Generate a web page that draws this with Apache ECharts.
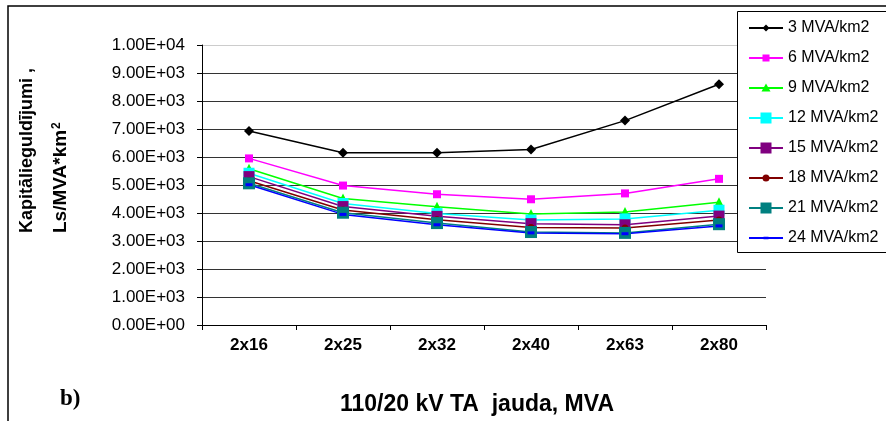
<!DOCTYPE html>
<html>
<head>
<meta charset="utf-8">
<style>
  html, body { margin: 0; padding: 0; background: #ffffff; }
  #chart { width: 886px; height: 421px; }
</style>
<script src="https://cdn.jsdelivr.net/npm/echarts@6/dist/echarts.min.js"></script>
</head>
<body>
<div id="chart"></div>
<script>
// Transformer capacity options (x axis)
const categories = ['2x16', '2x25', '2x32', '2x40', '2x63', '2x80'];

// Load density series names
const seriesNames = ['3 MVA/km2', '6 MVA/km2', '9 MVA/km2', '12 MVA/km2',
                     '15 MVA/km2', '18 MVA/km2', '21 MVA/km2', '24 MVA/km2'];

// Capital investment, Ls/(MVA*km2), per load density
const d3  = [6930, 6150, 6150, 6270, 7300, 8600];
const d6  = [5950, 4980, 4670, 4490, 4700, 5220];
const d9  = [5580, 4520, 4220, 3960, 4040, 4380];
const d12 = [5420, 4340, 3980, 3750, 3790, 4100];
const d15 = [5300, 4230, 3880, 3620, 3580, 3890];
const d18 = [5150, 4110, 3760, 3480, 3460, 3750];
const d21 = [5060, 4010, 3640, 3320, 3290, 3600];
const d24 = [5010, 3950, 3580, 3290, 3260, 3540];

// Y axis ticks and their labels in scientific notation
const yTickValues = [0, 1000, 2000, 3000, 4000, 5000, 6000, 7000, 8000, 9000, 10000];
const yTickLabels = ['0.00E+00', '1.00E+03', '2.00E+03', '3.00E+03', '4.00E+03', '5.00E+03',
                     '6.00E+03', '7.00E+03', '8.00E+03', '9.00E+03', '1.00E+04'];

const seriesData = [d3, d6, d9, d12, d15, d18, d21, d24];

// Marker appearance per series
const styles = [
  { color: '#000000', symbol: 'diamond',  size: 10 },
  { color: '#ff00ff', symbol: 'rect',     size: 8 },
  { color: '#00ff00', symbol: 'triangle', size: 10 },
  { color: '#00ffff', symbol: 'rect',     size: 11 },
  { color: '#800080', symbol: 'rect',     size: 11 },
  { color: '#800000', symbol: 'circle',   size: 7 },
  { color: '#008080', symbol: 'rect',     size: 12 },
  { color: '#0000ff', symbol: 'rect',     size: [7, 3] }
];

// Legend icon: a 34x12 box holding a line with the marker in its middle.
// Two tiny specks at opposite corners pin the bounding box so the icon is not rescaled.
// All sub-paths run clockwise so the nonzero fill covers the overlaps.
const PIN = 'M0,0 L0.01,0 L0.01,0.01 Z M34,12 L33.99,12 L33.99,11.99 Z ';
const LINE = 'M0,5.1 L34,5.1 L34,6.9 L0,6.9 Z ';
const legendMarks = [
  'M17,2.5 L20.5,6 L17,9.5 L13.5,6 Z',               // diamond
  'M13.5,2.5 L20.5,2.5 L20.5,9.5 L13.5,9.5 Z',       // small square
  'M17,1.5 L21.5,9.5 L12.5,9.5 Z',                   // triangle
  'M11.5,0.5 L22.5,0.5 L22.5,11.5 L11.5,11.5 Z',     // large square
  'M11.5,0.5 L22.5,0.5 L22.5,11.5 L11.5,11.5 Z',     // large square
  'M13.5,6 A3.5,3.5 0 1 1 20.5,6 A3.5,3.5 0 1 1 13.5,6 Z', // circle
  'M11.5,0.5 L22.5,0.5 L22.5,11.5 L11.5,11.5 Z',     // large square
  'M14.5,4.8 L19.5,4.8 L19.5,7.2 L14.5,7.2 Z'        // dash
];

const FONT = '"Liberation Sans", Arial, sans-serif';

const chart = echarts.init(document.getElementById('chart'), null, { renderer: 'canvas' });

const option = {
  animation: false,
  backgroundColor: '#ffffff',
  grid: { left: 202, right: 120, top: 45, bottom: 96 },
  legend: {
    orient: 'vertical',
    left: 737,
    top: 11,
    itemWidth: 34,
    itemHeight: 12,
    itemGap: 14,
    padding: [9, 0, 10, 12],
    symbolKeepAspect: true,
    textStyle: { fontFamily: FONT, fontSize: 16, color: '#000000' },
    data: seriesNames.map(function (name, i) {
      return { name: name, icon: 'path://' + PIN + LINE + legendMarks[i] };
    })
  },
  xAxis: {
    type: 'category',
    data: categories,
    boundaryGap: true,
    axisLine: { lineStyle: { color: '#000000', width: 1 } },
    axisTick: { show: true, length: 5, lineStyle: { color: '#000000' } },
    axisLabel: { fontFamily: FONT, fontWeight: 'bold', fontSize: 17, color: '#000000', margin: 12 },
    splitLine: { show: false }
  },
  yAxis: {
    type: 'value',
    min: 0,
    max: 10000,
    interval: 1000,
    axisLine: { show: true, lineStyle: { color: '#000000', width: 1 } },
    axisTick: { show: true, length: 5, lineStyle: { color: '#000000' } },
    axisLabel: {
      fontFamily: FONT, fontSize: 17, color: '#000000', margin: 17,
      formatter: function (v) {
        const i = yTickValues.indexOf(v);
        return i >= 0 ? yTickLabels[i] : '';
      }
    },
    splitLine: {
      show: true,
      lineStyle: {
        color: ['#333333', '#333333', '#333333', '#333333', '#333333', '#333333',
                '#333333', '#333333', '#333333', '#333333', '#cccccc'],
        width: 1
      }
    }
  },
  series: seriesNames.map(function (name, i) {
    const s = styles[i];
    return {
      name: name,
      type: 'line',
      data: seriesData[i],
      symbol: s.symbol,
      symbolSize: s.size,
      showAllSymbol: true,
      lineStyle: { color: s.color, width: 1.5 },
      itemStyle: { color: s.color },
      emphasis: { disabled: true }
    };
  }),
  graphic: [
    // outer frame
    {
      type: 'rect',
      silent: true,
      z: -1,
      shape: { x: 8, y: 6, width: 900, height: 440 },
      style: { fill: null, stroke: '#000000', lineWidth: 1.5 }
    },
    // legend box, running past the right edge
    {
      type: 'rect',
      silent: true,
      z: 3,
      shape: { x: 737.5, y: 11.5, width: 200, height: 241 },
      style: { fill: '#ffffff', stroke: '#000000', lineWidth: 1 }
    },
    // y axis title, first line
    {
      type: 'text',
      x: 27, y: 233,
      rotation: Math.PI / 2,
      style: {
        text: 'Kapitālieguldījumi ,',
        fontFamily: FONT, fontWeight: 'bold', fontSize: 18, fill: '#000000',
        align: 'left', verticalAlign: 'middle'
      }
    },
    // y axis title, second line with superscript
    {
      type: 'text',
      x: 61, y: 233,
      rotation: Math.PI / 2,
      style: {
        text: '{b|Ls/MVA*km}{s|2}',
        align: 'left', verticalAlign: 'middle',
        rich: {
          b: { fontFamily: FONT, fontWeight: 'bold', fontSize: 19, fill: '#000000', color: '#000000' },
          s: { fontFamily: FONT, fontWeight: 'bold', fontSize: 12, fill: '#000000', color: '#000000',
               verticalAlign: 'top', padding: [0, 0, 8, 1] }
        }
      }
    },
    // x axis title
    {
      type: 'text',
      x: 477, y: 405,
      style: {
        text: '110/20 kV TA  jauda, MVA',
        fontFamily: FONT, fontWeight: 'bold', fontSize: 23, fill: '#000000',
        align: 'center', verticalAlign: 'middle'
      }
    },
    // panel label
    {
      type: 'text',
      x: 60, y: 399,
      style: {
        text: 'b)',
        fontFamily: '"Liberation Serif", "Times New Roman", serif',
        fontWeight: 'bold', fontSize: 23, fill: '#000000',
        align: 'left', verticalAlign: 'middle'
      }
    }
  ]
};

chart.setOption(option);
</script>
</body>
</html>
